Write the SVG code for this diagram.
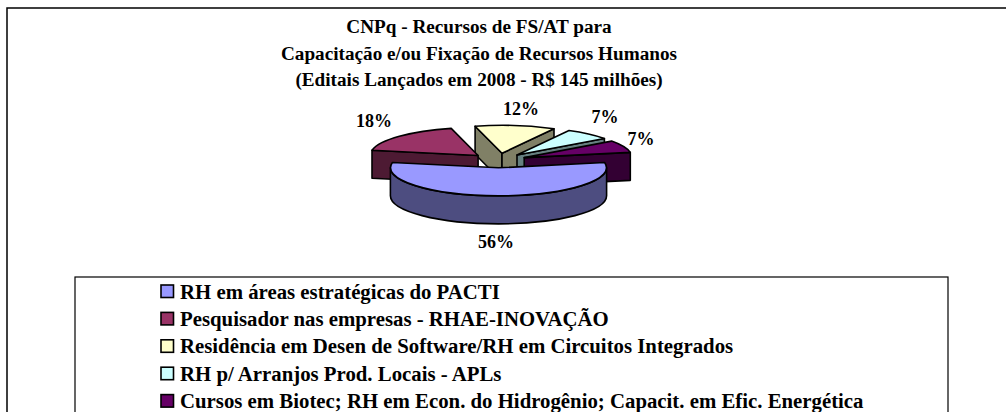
<svg xmlns="http://www.w3.org/2000/svg" width="1006" height="412" viewBox="0 0 1006 412">
<style>
.t{font-family:"Liberation Serif","Times New Roman",serif;font-weight:bold;fill:#000}
.ttl{font-size:19.2px;text-anchor:middle}
.lbl{font-size:18px;text-anchor:middle}
.leg{font-size:20.8px}
.e{stroke:#000;stroke-width:1.6;stroke-linejoin:round}
.mk{stroke:#000;stroke-width:1.6}
</style>
<rect x="7" y="8" width="1010" height="420" fill="#fff" stroke="#000" stroke-width="1.5"/>
<g id="title">
<text class="t ttl" x="479" y="33">CNPq - Recursos de FS/AT para</text>
<text class="t ttl" x="479" y="59.5">Capacitação e/ou Fixação de Recursos Humanos</text>
<text class="t ttl" x="479" y="86">(Editais Lançados em 2008 - R$ 145 milhões)</text>
</g>
<g id="pie">
<g id="slice-yellow">
<path class="e" fill="#808066" d="M502,153.3 L475.1,126.2 L475.1,154.2 L502,181.3 Z"/>
<path class="e" fill="#808066" d="M502,153.3 L554,128.8 L554,156.8 L502,181.3 Z"/>
<path class="e" fill="#FFFFCC" d="M502,153.3 L475.1,126.2 A108,28 0 0 1 554,128.8 Z"/>
</g>
<g id="slice-cyan">
<path class="e" fill="#668080" d="M517,155 L604.4,138.5 L604.4,166.5 L517,183 Z"/>
<path class="e" fill="#CCFFFF" d="M517,155 L569,130.5 A108,28 0 0 1 604.4,138.5 Z"/>
</g>
<g id="slice-maroon">
<path class="e" fill="#4D1A33" d="M478.1,155.5 L372,150.25 L372,178.25 L478.1,183.5 Z"/>
<path class="e" fill="#993366" d="M478.1,155.5 L372,150.25 A108,28 0 0 1 451.2,128.4 Z"/>
</g>
<g id="slice-purple">
<path class="e" fill="#330033" d="M524.2,157.6 L630.3,152.35 L630.3,180.35 L524.2,185.6 Z"/>
<path class="e" fill="#660066" d="M524.2,157.6 L611.6,141.1 A108,28 0 0 1 630.3,152.35 Z"/>
</g>
<g id="slice-blue">
<path class="e" fill="#4D4D80" d="M606.6,167.8 A108,28 0 0 1 390.4,167.8 L390.4,195.8 A108,28 0 0 0 606.6,195.8 Z"/>
<path class="e" fill="#9999FF" d="M498.5,167.8 L604.6,162.55 A108,28 0 1 1 392.4,162.55 Z"/>
</g>
<g id="labels">
<text class="t lbl" x="374" y="127">18%</text>
<text class="t lbl" x="521" y="115">12%</text>
<text class="t lbl" x="605" y="123">7%</text>
<text class="t lbl" x="641" y="145">7%</text>
<text class="t lbl" x="496" y="248">56%</text>
</g>
</g>
<g id="legend">
<rect x="75" y="277" width="873" height="150" fill="#fff" stroke="#000" stroke-width="1.2"/>
<rect class="mk" x="161" y="285" width="12.5" height="12.5" fill="#9999FF"/>
<text class="t leg" x="180" y="298.5">RH em áreas estratégicas do PACTI</text>
<rect class="mk" x="161" y="312.4" width="12.5" height="12.5" fill="#993366"/>
<text class="t leg" x="180" y="325.9">Pesquisador nas empresas - RHAE-INOVAÇÃO</text>
<rect class="mk" x="161" y="339.8" width="12.5" height="12.5" fill="#FFFFCC"/>
<text class="t leg" x="180" y="353.3">Residência em Desen de Software/RH em Circuitos Integrados</text>
<rect class="mk" x="161" y="367.2" width="12.5" height="12.5" fill="#CCFFFF"/>
<text class="t leg" x="180" y="380.7">RH p/ Arranjos Prod. Locais - APLs</text>
<rect class="mk" x="161" y="394.6" width="12.5" height="12.5" fill="#660066"/>
<text class="t leg" x="180" y="408.1">Cursos em Biotec; RH em Econ. do Hidrogênio; Capacit. em Efic. Energética</text>
</g>
</svg>
